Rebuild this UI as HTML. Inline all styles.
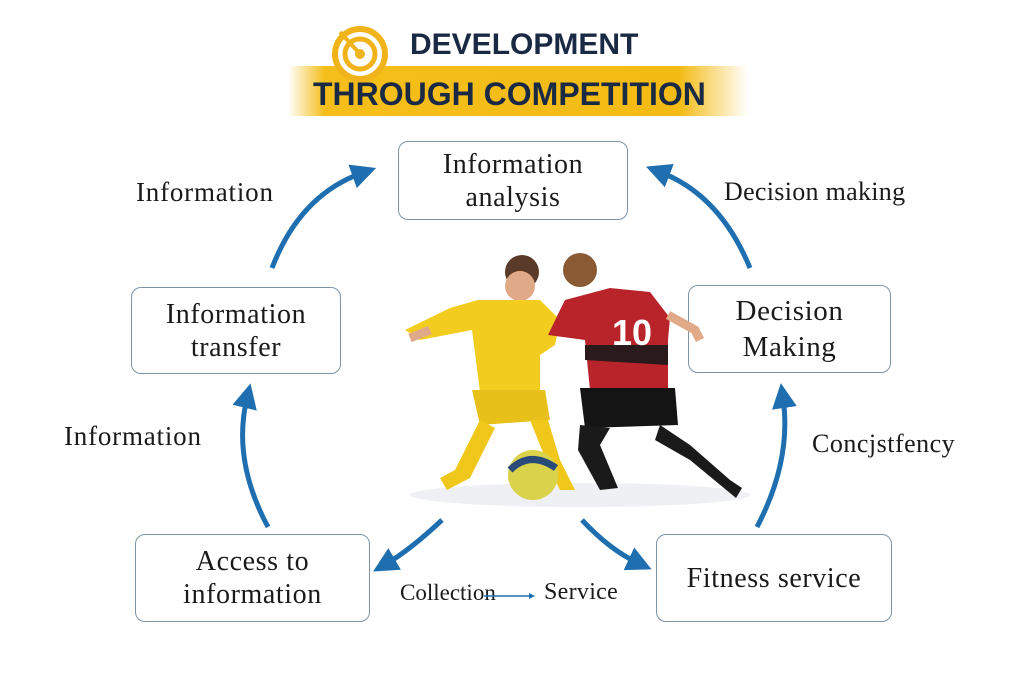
<!DOCTYPE html>
<html><head><meta charset="utf-8"><style>
body{margin:0;width:1024px;height:683px;background:#fff;position:relative;overflow:hidden;font-family:"Liberation Serif",serif;}
.t{position:absolute;color:#1b2a44;font-family:"Liberation Sans",sans-serif;font-weight:bold;}
.box{position:absolute;border:1.5px solid #7f93a8;border-radius:10px;box-sizing:border-box;display:flex;align-items:center;justify-content:center;text-align:center;font-size:28px;letter-spacing:0.6px;line-height:33px;color:#1a1a1a;}
.lbl{position:absolute;font-size:27px;letter-spacing:0.8px;color:#1a1a1a;white-space:nowrap;}
</style></head><body>
<div style="position:absolute;left:288px;top:66px;width:460px;height:50px;background:linear-gradient(90deg,rgba(245,190,20,0) 0%,#f5be1a 8%,#f4bb14 85%,rgba(245,190,20,0) 100%);"></div>
<svg style="position:absolute;left:330px;top:24px" width="60" height="60"><circle cx="30" cy="30" r="25" fill="#fff" stroke="#f0b31a" stroke-width="6"/><circle cx="30" cy="30" r="15" fill="none" stroke="#f0b31a" stroke-width="5"/><circle cx="30" cy="30" r="5" fill="#f0b31a"/><line x1="30" y1="30" x2="10" y2="8" stroke="#f0b31a" stroke-width="4"/></svg>
<div class="t" style="left:410px;top:28px;font-size:30px;">DEVELOPMENT</div>
<div class="t" style="left:313px;top:76px;font-size:32px;">THROUGH COMPETITION</div>

<div class="box" style="left:398px;top:141px;width:230px;height:79px;">Information<br>analysis</div>
<div class="box" style="left:131px;top:287px;width:210px;height:87px;">Information<br>transfer</div>
<div class="box" style="left:688px;top:285px;width:203px;height:88px;font-size:29px;line-height:36px;">Decision<br>Making</div>
<div class="box" style="left:135px;top:534px;width:235px;height:88px;">Access to<br>information</div>
<div class="box" style="left:656px;top:534px;width:236px;height:88px;">Fitness service</div>

<div class="lbl" style="left:136px;top:177px;">Information</div>
<div class="lbl" style="left:724px;top:177px;font-size:26px;letter-spacing:0.3px;">Decision making</div>
<div class="lbl" style="left:64px;top:421px;">Information</div>
<div class="lbl" style="left:812px;top:429px;font-size:26px;letter-spacing:0.5px;">Concjstfency</div>
<div class="lbl" style="left:400px;top:580px;font-size:23px;letter-spacing:0;">Collection</div>
<div class="lbl" style="left:544px;top:579px;font-size:24px;letter-spacing:0.3px;">Service</div>

<svg style="position:absolute;left:0;top:0" width="1024" height="683">
<defs><marker id="a" markerWidth="5" markerHeight="5" refX="2" refY="2.5" orient="auto"><path d="M0,0 L5,2.5 L0,5 z" fill="#1f6fb0"/></marker>
<marker id="b" markerWidth="6" markerHeight="6" refX="1" refY="3" orient="auto" markerUnits="userSpaceOnUse"><path d="M0,0 L6,3 L0,6 z" fill="#1f6fb0"/></marker></defs>
<g fill="none" stroke="#1f6fb0" stroke-width="5" marker-end="url(#a)">
<path d="M272,268 Q300,195 362,173"/>
<path d="M750,268 Q720,195 660,172"/>
<path d="M268,527 Q232,460 247,398"/>
<path d="M757,527 Q792,460 783,398"/>
<path d="M442,520 Q410,550 386,564"/>
<path d="M582,520 Q610,550 638,563"/>
</g>
<path d="M484,596 L530,596" stroke="#1f6fb0" stroke-width="1.5" marker-end="url(#b)"/>
<ellipse cx="580" cy="495" rx="170" ry="12" fill="#eef0f3"/>
<g>
<circle cx="522" cy="272" r="17" fill="#5a3a28"/><circle cx="520" cy="286" r="15" fill="#e0aa88"/>
<path d="M405,330 L450,308 L478,300 L540,300 L560,320 L555,345 L540,355 L540,390 L480,392 L472,330 L420,340 Z" fill="#f2cd20"/>
<path d="M472,390 L545,390 L550,420 L480,425 Z" fill="#e8c01a"/>
<path d="M480,420 L455,470 L440,478 L447,490 L470,478 L495,428 Z" fill="#f0c81c"/>
<path d="M530,420 L548,465 L560,490 L575,490 L560,460 L548,420 Z" fill="#f0c81c"/>
<circle cx="533" cy="475" r="25" fill="#d9d24a"/><path d="M510,470 Q530,450 556,468" stroke="#2a4b7a" stroke-width="7" fill="none"/>
<circle cx="580" cy="270" r="17" fill="#8a5a35"/>
<path d="M565,300 L610,288 L650,292 L670,318 L668,340 L668,390 L590,390 L585,340 L548,335 L560,310 Z" fill="#b8242a"/>
<path d="M585,345 L668,345 L668,365 L585,360 Z" fill="#2a1a1c"/>
<text x="612" y="345" fill="#fff" font-family="Liberation Sans" font-weight="bold" font-size="36">10</text>
<path d="M580,388 L675,388 L678,425 L585,428 Z" fill="#141414"/>
<path d="M580,425 L578,450 L600,490 L618,488 L600,445 L610,428 Z" fill="#1a1a1a"/>
<path d="M660,425 L690,445 L730,480 L742,488 L736,498 L690,460 L655,440 Z" fill="#1a1a1a"/>
<path d="M668,315 L695,330 L700,340" stroke="#e0aa88" stroke-width="9" fill="none"/>
<path d="M430,330 L410,338" stroke="#e0aa88" stroke-width="9" fill="none"/>
</g>
</svg>
</body></html>
